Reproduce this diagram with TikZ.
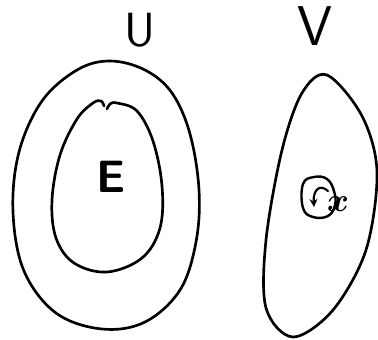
\documentclass[tikz,border=0pt]{standalone}
\usetikzlibrary{arrows.meta}
\begin{document}
\begin{tikzpicture}[x=0.75pt,y=-0.75pt,
  pen/.style={line width=2pt,line cap=round,line join=round},
  lbl/.style={font=\sffamily}]
\useasboundingbox (0,0) rectangle (378,339);
% outer set U
\draw[pen] plot[smooth cycle,tension=0.6] coordinates {
 (77,70) (110,61) (145,70) (172,93) (190,134) (199,190) (196,242) (180,290)
 (145,322) (102,329) (56,313) (24,271) (13,212) (19,152) (42,101)};
% inner set E
\draw[pen] plot[smooth,tension=0.6] coordinates {
 (107,109) (110,104) (117,103) (137,111) (153,141) (162,186) (160,228) (142,258)
 (107,272) (74,263) (56,238) (52,200) (60,155) (77,119) (93,103) (101,101) (104,106)};
% set V
\draw[pen] plot[smooth cycle,tension=0.55] coordinates {
 (327,75) (362,116) (377,172) (366,250) (333,310) (293,337) (266,308)
 (266,240) (282,150) (302,93)};
% small neighbourhood with arrow
\draw[pen,line width=1.8pt] plot[smooth cycle,tension=0.7] coordinates {
 (303,184) (314,177) (327,179) (334,191) (335,205) (328,216) (313,217) (303,208)};
\draw[pen,line width=1.6pt,-{Stealth[length=6pt,width=6pt]}]
 (328,191) .. controls (319,183) and (313,191) .. (314,207);
% labels
\node[lbl,font=\sffamily\fontsize{36}{36}\selectfont] (U) at (140,30) {U};
\node[lbl,font=\sffamily\fontsize{42}{42}\selectfont] (V) at (315,26) {V};
\node[lbl,font=\sffamily\bfseries\fontsize{34}{34}\selectfont] (E) at (111,177) {E};
\node[font=\boldmath\fontsize{50}{50}\selectfont] (xpt) at (338,204) {$x$};
\end{tikzpicture}
\end{document}
